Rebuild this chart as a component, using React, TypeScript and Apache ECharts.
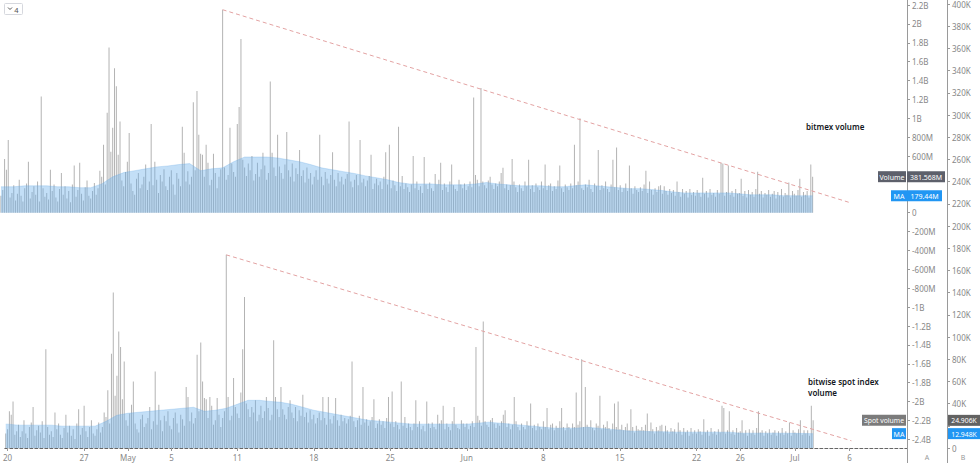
import React, { useEffect, useRef } from "react";
import * as echarts from "echarts";

// 4-hour bars, first bar = Apr 19 20:00 ; values in millions (bitmex) and thousands (spot)
const bitmexVolume = [
  180,
  240, 570, 455, 770, 160, 210,
  290, 130, 200, 350, 180, 120,
  260, 310, 540, 150, 220, 280,
  190, 330, 120, 1230, 260, 170,
  210, 140, 455, 230, 300, 160,
  120, 250, 420, 190, 280, 150,
  230, 110, 300, 500, 170, 240,
  530, 200, 130, 270, 340, 180,
  150, 230, 315, 190, 260, 445,
  380, 720, 300, 1060, 1750, 645,
  900, 1530, 1340, 615, 965, 340,
  280, 430, 540, 845, 310, 230,
  190, 360, 420, 260, 300, 380,
  510, 240, 330, 940, 290, 540,
  350, 210, 400, 330, 460, 280,
  240, 380, 450, 300, 190, 420,
  360, 280, 910, 635, 330, 440,
  300, 380, 1170, 450, 1290, 825,
  625, 615, 380, 720, 530, 290,
  350, 625, 420, 260, 380, 460,
  2150, 480, 350, 400, 900, 520,
  430, 380, 940, 1120, 1840, 560,
  480, 390, 520, 450, 600, 340,
  410, 530, 380, 460, 635, 500,
  350, 420, 1390, 635, 480, 390,
  825, 490, 420, 360, 510, 855,
  450, 380, 520, 330, 470, 410,
  665, 390, 450, 320, 480, 360,
  420, 300, 380, 450, 350, 825,
  380, 290, 430, 360, 310, 400,
  640, 350, 280, 420, 330, 380,
  300, 360, 410, 965, 330, 270,
  350, 400, 290, 770, 320, 360,
  280, 340, 390, 615, 250, 310,
  360, 290, 330, 250, 380, 640,
  300, 720, 260, 340, 290, 230,
  910, 280, 390, 250, 310, 270,
  220, 300, 600, 260, 330, 240,
  280, 210, 590, 300, 250, 320,
  260, 230, 410, 300, 350, 530,
  240, 310, 270, 220, 330, 510,
  290, 250, 230, 350, 300, 260,
  310, 240, 280, 330, 270, 1220,
  400, 350, 280, 1320, 330, 290,
  260, 340, 380, 300, 250, 310,
  280, 330, 420, 475, 260, 300,
  240, 290, 570, 330, 270, 220,
  300, 260, 230, 330, 280, 560,
  250, 290, 220, 310, 270, 240,
  330, 260, 510, 240, 290, 310,
  230, 280, 250, 340, 500, 260,
  220, 300, 270, 240, 310, 260,
  720, 290, 330, 1000, 260, 240,
  300, 270, 350, 250, 220, 310,
  280, 665, 240, 290, 260, 330,
  250, 220, 300, 560, 270, 690,
  240, 290, 220, 260, 310, 230,
  500, 260, 200, 280, 240, 220,
  270, 230, 300, 445, 210, 330,
  240, 190, 260, 220, 280, 290,
  200, 280, 230, 190, 250, 210,
  240, 180, 330, 220, 170, 250,
  200, 230, 160, 250, 190, 220,
  180, 240, 210, 170, 370, 200,
  230, 160, 250, 190, 210, 170,
  240, 200, 530, 520, 180, 220,
  500, 190, 230, 170, 250, 200,
  210, 360, 180, 230, 160, 240,
  190, 220, 170, 250, 435, 200,
  230, 160, 210, 190, 240, 170,
  200, 230, 150, 220, 180, 250,
  170, 210, 190, 320, 160, 230,
  200, 180, 240, 360, 170, 220,
  190, 230, 160, 510, 381.568,
];

const spotVolume = [
  13,
  17, 33, 30, 42, 12, 15,
  21, 10, 15, 25, 13, 9,
  19, 23, 37, 11, 16, 20,
  14, 24, 9, 89, 19, 12,
  15, 10, 32, 17, 22, 12,
  9, 18, 30, 14, 20, 11,
  17, 8, 22, 35, 12, 18,
  38, 15, 10, 19, 25, 13,
  11, 17, 23, 14, 19, 32,
  28, 52, 22, 85, 140, 47,
  65, 105, 91, 44, 78, 25,
  20, 31, 39, 60, 22, 17,
  14, 26, 30, 19, 22, 27,
  37, 17, 24, 69, 21, 39,
  25, 15, 29, 24, 33, 20,
  17, 27, 32, 22, 14, 30,
  26, 20, 55, 46, 24, 32,
  22, 27, 84, 33, 95, 60,
  45, 44, 27, 46, 38, 21,
  25, 45, 30, 19, 27, 33,
  174, 46, 25, 29, 63, 37,
  31, 27, 50, 89, 136, 40,
  35, 28, 37, 32, 43, 24,
  30, 38, 27, 33, 46, 36,
  25, 30, 97, 46, 35, 28,
  55, 35, 30, 26, 37, 43,
  32, 27, 37, 24, 34, 29,
  48, 28, 32, 23, 34, 26,
  30, 22, 27, 32, 25, 46,
  27, 21, 46, 26, 22, 29,
  45, 25, 20, 30, 24, 27,
  22, 26, 29, 78, 24, 19,
  25, 29, 21, 55, 23, 26,
  20, 24, 28, 44, 18, 22,
  26, 21, 24, 18, 27, 46,
  22, 51, 19, 24, 21, 17,
  60, 20, 28, 18, 22, 19,
  16, 22, 43, 19, 24, 17,
  20, 15, 42, 22, 18, 23,
  19, 17, 30, 22, 25, 38,
  17, 22, 19, 16, 24, 37,
  21, 18, 17, 25, 22, 19,
  22, 17, 20, 24, 19, 91,
  29, 25, 20, 114, 24, 21,
  19, 25, 27, 22, 18, 22,
  20, 24, 30, 34, 19, 22,
  17, 21, 46, 24, 19, 16,
  22, 19, 17, 24, 20, 40,
  18, 21, 16, 22, 19, 17,
  24, 19, 36, 17, 21, 22,
  16, 20, 18, 24, 36, 19,
  16, 22, 19, 17, 22, 19,
  50, 21, 24, 80, 19, 55,
  21, 19, 25, 18, 16, 22,
  20, 47, 17, 21, 19, 24,
  18, 16, 22, 40, 19, 42,
  17, 21, 16, 19, 22, 16,
  35, 19, 14, 20, 17, 16,
  19, 16, 21, 31, 15, 23,
  17, 13, 19, 16, 20, 21,
  14, 20, 16, 13, 18, 15,
  17, 13, 23, 16, 12, 18,
  14, 16, 11, 18, 13, 16,
  13, 17, 15, 12, 26, 14,
  16, 11, 18, 13, 15, 12,
  17, 14, 38, 36, 13, 16,
  33, 13, 16, 12, 18, 14,
  15, 25, 13, 16, 11, 17,
  13, 16, 12, 18, 33, 14,
  16, 11, 15, 13, 17, 12,
  14, 16, 11, 15, 13, 18,
  12, 15, 13, 23, 11, 16,
  14, 13, 17, 25, 12, 16,
  13, 16, 11, 38, 24.906,
];

// moving average read at the start of each day (Apr 20 .. Jul 3)
const bitmexMA = [
  275, 275, 285, 285, 285, 275, 275, 265, 265, 305,
  380, 425, 445, 465, 485, 495, 510, 520, 445, 465,
  475, 540, 590, 590, 590, 580, 560, 540, 510, 475,
  455, 435, 415, 390, 370, 350, 320, 305, 305, 305,
  295, 295, 295, 305, 320, 305, 295, 285, 285, 285,
  275, 275, 285, 295, 285, 275, 265, 255, 255, 245,
  235, 220, 210, 210, 210, 210, 210, 200, 190, 190,
  190, 180, 180, 179,
];
const bitmexMALast = 179.44;

const spotMA = [
  21.5, 20.6, 20.6, 20.6, 20.6, 19.7, 19.7, 19.7, 19.7, 24,
  29.5, 31.3, 32.2, 33.1, 34, 34.9, 35.8, 36.7, 33.1, 34,
  35.8, 39.4, 43, 43, 42, 41.2, 39.4, 36.7, 34, 32.2,
  30.4, 28.6, 26.8, 25, 24.2, 23.3, 22.4, 21.5, 21.5, 21.5,
  21.5, 21.5, 21.5, 22.4, 23.3, 22.4, 21.5, 20.6, 19.7, 18.8,
  17.9, 17.9, 17.9, 18.8, 17.9, 17, 16.1, 15.2, 15.2, 14.7,
  14.7, 14.3, 14.3, 14.3, 14.3, 14.3, 14.3, 13.4, 13.4, 13.4,
  13.4, 13.4, 13.2, 13.1,
];
const spotMALast = 12.948;

// trend lines: [bar index, value]
const bitmexTrend = [[121, 2150], [464, 103]];
const spotTrend = [[121, 174], [464, 6.5]];

const xTickDays = [0, 7, 11, 15, 21, 28, 35, 42, 49, 56, 63, 67, 72, 77];
const xTickLabels = ["20", "27", "May", "5", "11", "18", "25", "Jun", "8", "15", "22", "26", "Jul", "6"];
const categoryCount = 495;

const FONT = '"Noto Sans", "DejaVu Sans", sans-serif';

export default function App() {
  const ref = useRef<HTMLDivElement>(null);
  useEffect(() => {
    document.body.style.margin = "0";
    const chart = echarts.init(ref.current!, undefined, { renderer: "svg" });
    const categories = Array.from({ length: categoryCount }, (_, i) => String(i));
    const tickMap = new Map<number, string>();
    xTickDays.forEach((d, k) => tickMap.set(6 * d + 1, xTickLabels[k]));
    const maSeries = (days: number[], last: number, n: number) => {
      const arr: number[][] = [[0, days[0]]];
      days.forEach((v, d) => arr.push([6 * d + 1, v]));
      arr.push([n - 1, last]);
      return arr;
    };
    const lastTop = bitmexVolume[bitmexVolume.length - 1];
    const lastSpot = spotVolume[spotVolume.length - 1];

    // px per unit of each price scale (grid heights / ranges)
    const pxA = (463 - 5 - 23.7) / 4600;
    const pxB = (463 - 0 - 15) / 400;
    const hiddenA = (v: number) =>
      Math.abs(v - lastTop) * pxA < 8 || Math.abs(v - bitmexMALast) * pxA < 8;
    const hiddenB = (v: number) =>
      Math.abs(v - lastSpot) * pxB < 8 || Math.abs(v - spotMALast) * pxB < 8;

    const fmtA = (v: number) => {
      if (hiddenA(v)) return "";
      if (v === 0) return "0";
      const a = Math.abs(v);
      const s = a >= 1000 ? `${+(a / 1000).toFixed(1)}B` : `${Math.round(a)}M`;
      return (v < 0 ? "-" : "") + s;
    };
    const fmtB = (v: number) => {
      if (hiddenB(v)) return "";
      return v === 0 ? "0" : `${Math.round(v)}K`;
    };

    const barColor = "#b3b3b3";
    const areaColor = "rgba(106,176,235,0.4)";
    const trendStyle = { type: [4, 3] as any, color: "#e3a3a3", width: 1 };

    const option: any = {
      animation: false,
      backgroundColor: "#ffffff",
      grid: [
        { left: 0, right: 73, top: 5, bottom: 23.7 },
        { left: 0, right: 73, top: 0, bottom: 15 },
      ],
      xAxis: [
        { type: "category", gridIndex: 0, data: categories, show: false },
        {
          type: "category",
          gridIndex: 1,
          data: categories,
          axisLine: { show: true, lineStyle: { color: "#666", type: [3, 2], width: 1 } },
          axisTick: {
            show: true,
            alignWithLabel: true,
            length: 3,
            interval: (i: number) => tickMap.has(i),
            lineStyle: { color: "#999" },
          },
          axisLabel: {
            interval: (i: number) => tickMap.has(i),
            formatter: (_v: string, i: number) => tickMap.get(i) ?? "",
            color: "#888",
            fontSize: 8,
            fontFamily: FONT,
            margin: 5,
          },
          splitLine: { show: false },
        },
      ],
      yAxis: [
        {
          type: "value",
          gridIndex: 0,
          position: "right",
          min: -2400,
          max: 2200,
          interval: 200,
          axisLine: { show: false },
          axisTick: { show: true, length: 3, lineStyle: { color: "#999" } },
          axisLabel: { formatter: fmtA, color: "#888", fontSize: 8, fontFamily: FONT, margin: 5 },
          splitLine: { show: false },
        },
        {
          type: "value",
          gridIndex: 1,
          position: "right",
          offset: 40,
          min: 0,
          max: 400,
          interval: 20,
          axisLine: { show: false },
          axisTick: { show: true, length: 3, lineStyle: { color: "#999" } },
          axisLabel: { formatter: fmtB, color: "#888", fontSize: 8, fontFamily: FONT, margin: 5 },
          splitLine: { show: false },
        },
      ],
      series: [
        {
          type: "bar",
          xAxisIndex: 0,
          yAxisIndex: 0,
          data: bitmexVolume,
          barWidth: 1,
          itemStyle: { color: barColor },
          z: 2,
          silent: true,
        },
        {
          type: "line",
          xAxisIndex: 0,
          yAxisIndex: 0,
          data: maSeries(bitmexMA, bitmexMALast, bitmexVolume.length),
          showSymbol: false,
          symbol: "none",
          lineStyle: { width: 0.6, color: "rgba(100,170,230,0.45)" },
          areaStyle: { color: areaColor, opacity: 1 },
          z: 3,
          silent: true,
        },
        {
          type: "line",
          xAxisIndex: 0,
          yAxisIndex: 0,
          data: bitmexTrend,
          showSymbol: false,
          symbol: "none",
          lineStyle: trendStyle,
          z: 4,
          silent: true,
        },
        {
          type: "bar",
          xAxisIndex: 1,
          yAxisIndex: 1,
          data: spotVolume,
          barWidth: 1,
          itemStyle: { color: barColor },
          z: 2,
          silent: true,
        },
        {
          type: "line",
          xAxisIndex: 1,
          yAxisIndex: 1,
          data: maSeries(spotMA, spotMALast, spotVolume.length),
          showSymbol: false,
          symbol: "none",
          lineStyle: { width: 0.6, color: "rgba(100,170,230,0.45)" },
          areaStyle: { color: areaColor, opacity: 1 },
          z: 3,
          silent: true,
        },
        {
          type: "line",
          xAxisIndex: 1,
          yAxisIndex: 1,
          data: spotTrend,
          showSymbol: false,
          symbol: "none",
          lineStyle: trendStyle,
          z: 4,
          silent: true,
        },
      ],
    };
    chart.setOption(option);

    const yA = (v: number) => chart.convertToPixel({ yAxisIndex: 0 } as any, v) as unknown as number;
    const yB = (v: number) => chart.convertToPixel({ yAxisIndex: 1 } as any, v) as unknown as number;
    const txt = (x: number, y: number, text: string, fill: string, size: number, extra: any = {}) => ({
      type: "text",
      x,
      y,
      z: 101,
      style: {
        text,
        fill,
        font: `${extra.weight || "normal"} ${size}px ${FONT}`,
        align: extra.align || "center",
        verticalAlign: extra.vAlign || "middle",
        textAlign: extra.align || "center",
        textVerticalAlign: extra.vAlign || "middle",
      },
    });
    const box = (x: number, w: number, yc: number, fill: string, text: string, size = 7) => [
      { type: "rect", z: 100, shape: { x, y: yc - 5.5, width: w, height: 11 }, style: { fill } },
      txt(x + w / 2, yc + 0.5, text, "#ffffff", size),
    ];
    const yVol = yA(lastTop);
    const yMaA = yA(bitmexMALast);
    const ySpot = yB(lastSpot);
    const yMaB = yB(spotMALast);
    const graphic: any[] = [
      { type: "line", z: 50, shape: { x1: 907.5, y1: 0, x2: 907.5, y2: 463 }, style: { stroke: "#9a9a9a", lineWidth: 1 } },
      { type: "line", z: 50, shape: { x1: 947.5, y1: 0, x2: 947.5, y2: 463 }, style: { stroke: "#9a9a9a", lineWidth: 1 } },
      ...box(878, 28, yVol, "#5d606b", "Volume"),
      ...box(907, 38, yVol, "#5d606b", lastTop.toFixed(3) + "M"),
      ...box(891, 16, yMaA, "#2196f3", "MA"),
      ...box(907, 35, yMaA, "#2196f3", bitmexMALast.toFixed(2) + "M"),
      ...box(862, 44, ySpot, "#7b7b7b", "Spot volume", 6.8),
      ...box(948, 32, ySpot, "#626262", lastSpot.toFixed(3) + "K", 6.8),
      ...box(892, 14, yMaB, "#2196f3", "MA"),
      ...box(948, 32, yMaB, "#2196f3", spotMALast.toFixed(3) + "K", 6.8),
      txt(806, 126, "bitmex volume", "#131722", 8, { align: "left", weight: 600 }),
      txt(808, 381.5, "bitwise spot index", "#131722", 8, { align: "left", weight: 600 }),
      txt(808, 392, "volume", "#131722", 8, { align: "left", weight: 600 }),
      txt(927, 457, "A", "#999", 7),
      txt(963, 457, "B", "#999", 7),
      { type: "rect", z: 100, shape: { x: 4.5, y: 3.5, width: 18, height: 11, r: 1 }, style: { fill: "#fff", stroke: "#d6d8de", lineWidth: 1 } },
      { type: "polyline", z: 101, shape: { points: [[8, 7.5], [10, 9.5], [12, 7.5]] }, style: { stroke: "#555", lineWidth: 1, fill: null } },
      txt(16.5, 9.5, "4", "#555", 7.5),
    ];
    chart.setOption({ graphic });

    return () => chart.dispose();
  }, []);
  return (
    <div
      ref={ref}
      style={{ position: "fixed", left: 0, top: 0, width: 980, height: 463, background: "#fff" }}
    />
  );
}
